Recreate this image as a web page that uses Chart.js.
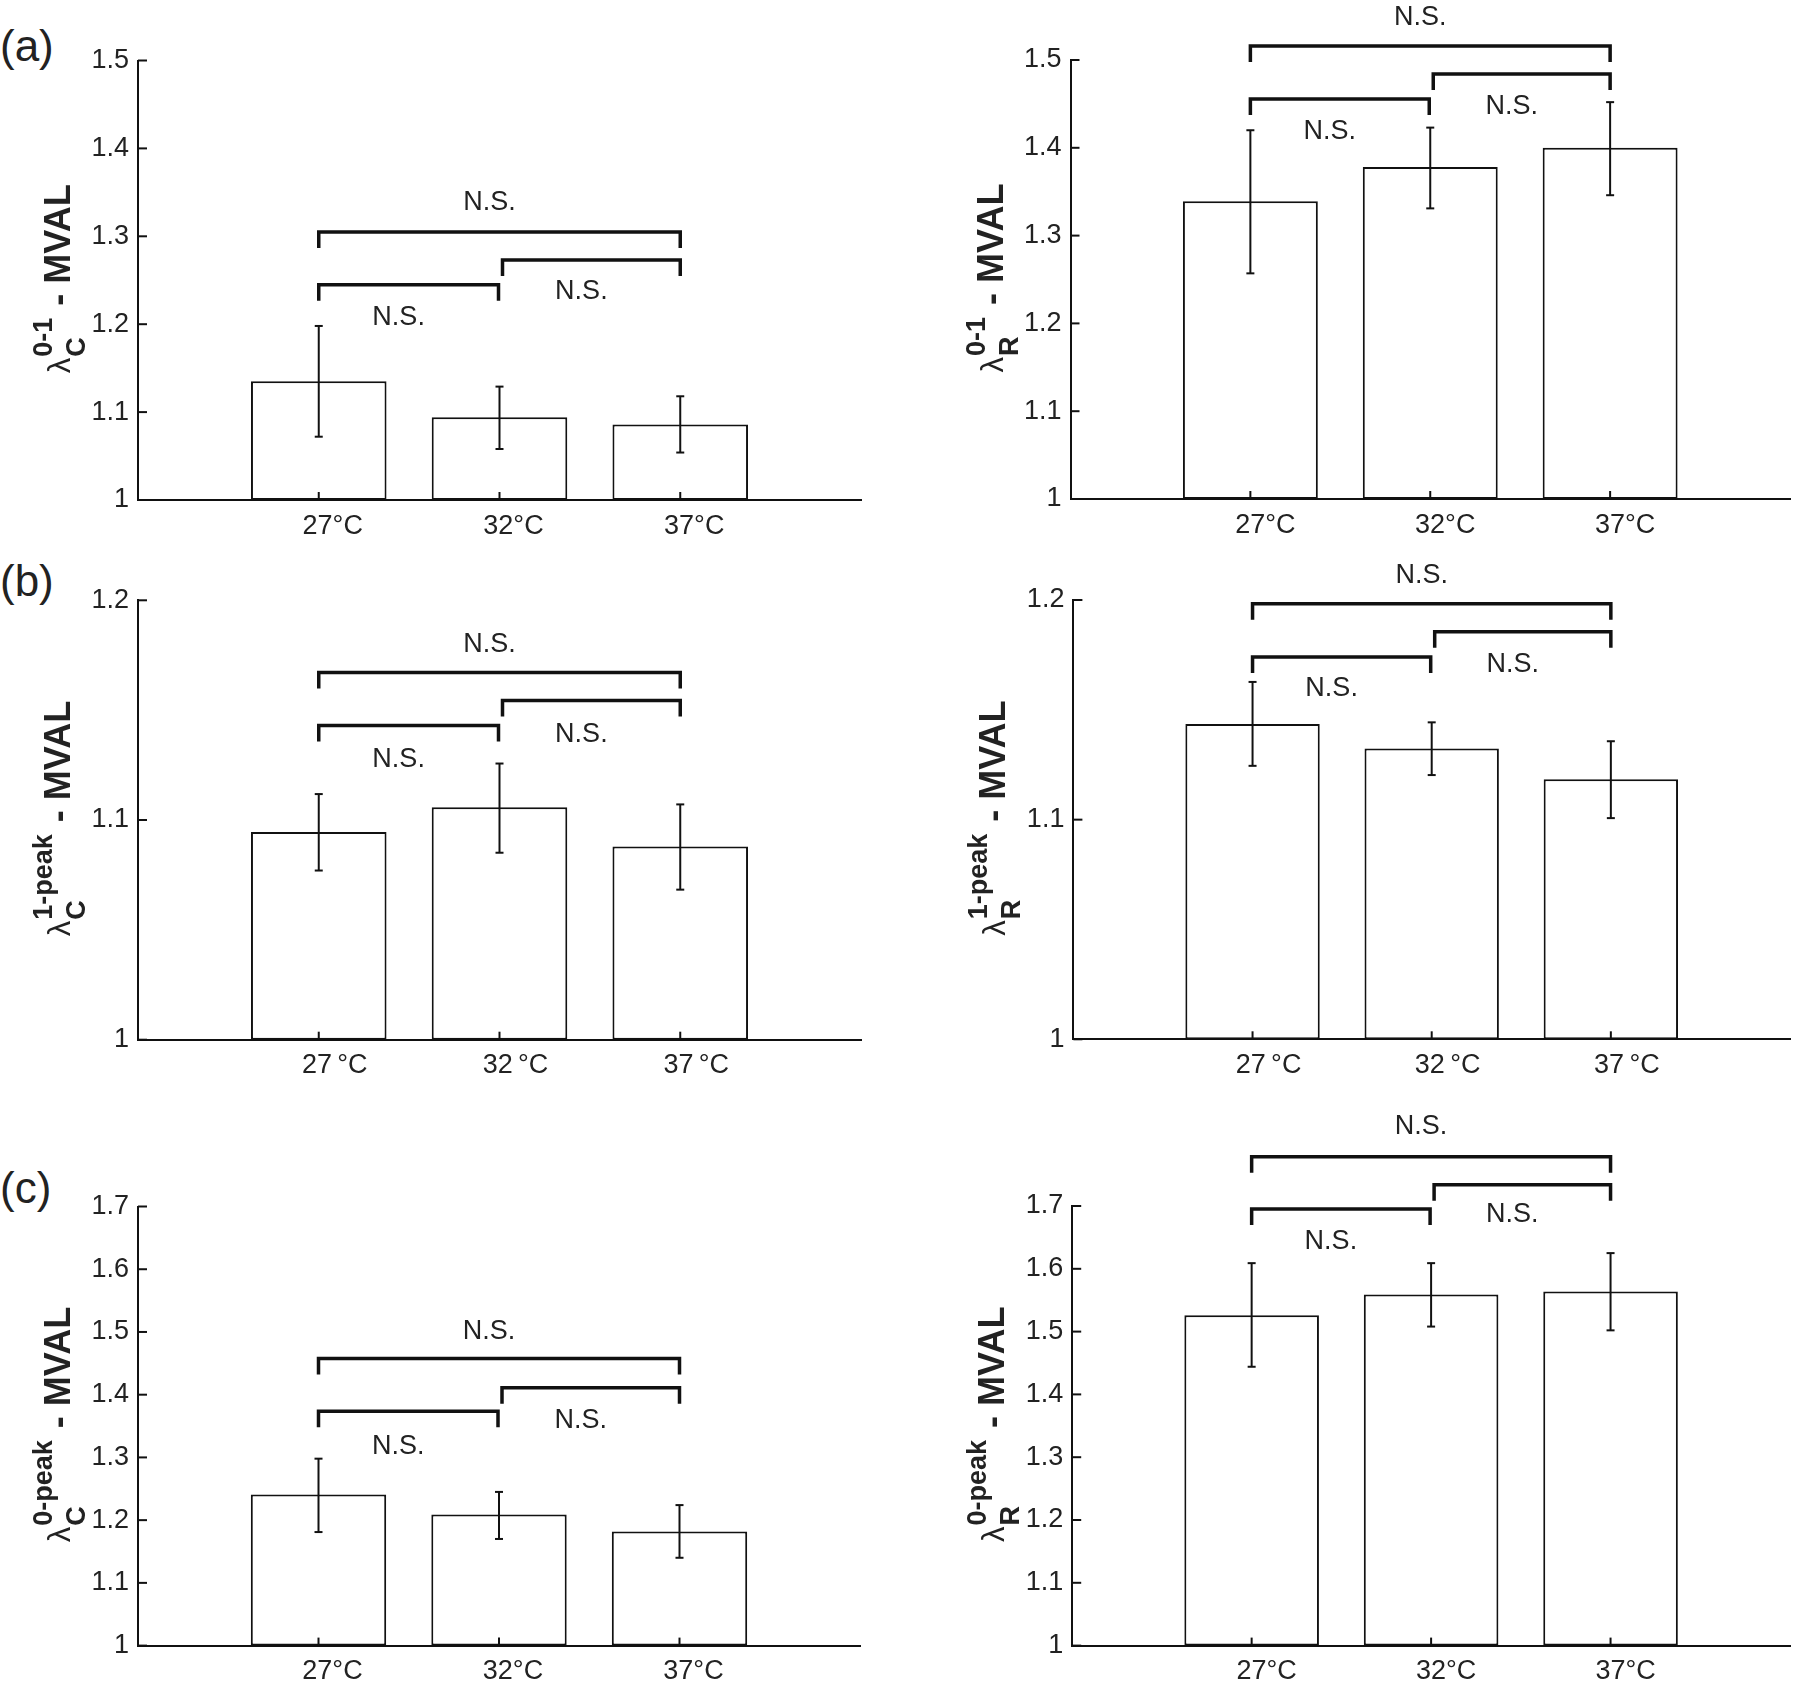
<!DOCTYPE html>
<html>
<head>
<meta charset="utf-8">
<title>MVAL vs temperature</title>
<script src="https://cdn.jsdelivr.net/npm/chart.js@4.4.1/dist/chart.umd.min.js"></script>
<style>
  html, body { margin: 0; padding: 0; background: #fff; }
  #fig { position: relative; width: 1800px; height: 1686px; overflow: hidden; }
  #fig canvas { position: absolute; }
  .tag { position: absolute; left: 0; font: 44px/44px 'Liberation Sans', Arial, sans-serif; color: #222; }
</style>
</head>
<body>
<div id="fig">
  <div class="tag" style="top:24px">(a)</div>
  <div class="tag" style="top:559px">(b)</div>
  <div class="tag" style="top:1166px">(c)</div>
</div>
<script>
// categories (x)
const temps  = ['27°C', '32°C', '37°C'];
const tempsB = ['27\u2009°C', '32\u2009°C', '37\u2009°C'];

// y tick labels per row
const ticks01 = [1, 1.1, 1.2, 1.3, 1.4, 1.5];
const ticks1p = [1, 1.1, 1.2];
const ticks0p = [1, 1.1, 1.2, 1.3, 1.4, 1.5, 1.6, 1.7];

// (a) lambda 0-1 : bar mean, error bar top / bottom
const meanC01 = [1.135, 1.094, 1.086];
const hiC01   = [1.198, 1.129, 1.118];
const loC01   = [1.072, 1.058, 1.054];
const meanR01 = [1.339, 1.378, 1.400];
const hiR01   = [1.420, 1.423, 1.452];
const loR01   = [1.257, 1.331, 1.346];

// (b) lambda 1-peak
const meanC1p = [1.0945, 1.1058, 1.0879];
const hiC1p   = [1.1118, 1.1257, 1.1071];
const loC1p   = [1.0770, 1.0851, 1.0683];
const meanR1p = [1.1435, 1.1324, 1.1184];
const hiR1p   = [1.1627, 1.1443, 1.1357];
const loR1p   = [1.1245, 1.1203, 1.1007];

// (c) lambda 0-peak
const meanC0p = [1.241, 1.209, 1.182];
const hiC0p   = [1.298, 1.245, 1.224];
const loC0p   = [1.181, 1.170, 1.140];
const meanR0p = [1.526, 1.559, 1.564];
const hiR0p   = [1.609, 1.609, 1.625];
const loR0p   = [1.444, 1.508, 1.502];

// significance brackets: levels for 27-37, 32-37, 27-32 ; then "N.S." label heights
const brkC01 = [1.305, 1.273, 1.245],    nsC01 = [1.338, 1.237, 1.208];
const brkR01 = [1.516, 1.484, 1.4555],   nsR01 = [1.548, 1.447, 1.418];
const brkC1p = [1.1671, 1.1544, 1.143],  nsC1p = [1.180, 1.139, 1.1277];
const brkR1p = [1.1983, 1.1856, 1.174],  nsR1p = [1.2113, 1.1705, 1.1595];
const brkC0p = [1.4575, 1.411, 1.3735],  nsC0p = [1.5004, 1.3586, 1.317];
const brkR0p = [1.7786, 1.734, 1.6952],  nsR0p = [1.827, 1.6857, 1.643];

const INK = '#111';
const TXT = '#222';
const FAM = "'Liberation Sans', Arial, sans-serif";
const YW = 130;   // y axis box width
const XH = 50;    // x axis box height (labels are clipped to it)
Chart.defaults.font.family = FAM;

const fig = document.getElementById('fig');

function line(ctx, x1, y1, x2, y2) {
  ctx.beginPath(); ctx.moveTo(x1, y1); ctx.lineTo(x2, y2); ctx.stroke();
}

// λ with sub/superscript, rotated, like the MATLAB ylabel
function drawYTitle(ctx, cx, cy, sub, sup) {
  ctx.save();
  ctx.translate(cx, cy);
  ctx.rotate(-Math.PI / 2);
  ctx.fillStyle = TXT;
  ctx.textAlign = 'left';
  ctx.textBaseline = 'alphabetic';
  const fL = `31px ${FAM}`, fS = `bold 27px ${FAM}`, fM = `bold 36px ${FAM}`;
  const rest = ' - MVAL';
  ctx.font = fL; const wL = ctx.measureText('λ').width;
  ctx.font = fS; const wS = Math.max(ctx.measureText(sub).width, ctx.measureText(sup).width);
  ctx.font = fM; const wM = ctx.measureText(rest).width;
  let px = -(wL + wS + wM) / 2;
  ctx.font = fL; ctx.fillText('λ', px, 0); px += wL + 1;
  ctx.font = fS; ctx.fillText(sub, px, 15); ctx.fillText(sup, px, -18); px += wS + 2;
  ctx.font = fM; ctx.fillText(rest, px, 0);
  ctx.restore();
}

function makeMarks(p) {
  return {
    id: 'marks',
    afterDatasetsDraw(chart) {
      const { ctx, chartArea: a, scales: { x, y } } = chart;
      ctx.save();
      ctx.strokeStyle = INK;
      ctx.fillStyle = TXT;
      ctx.lineCap = 'butt';
      ctx.lineJoin = 'miter';

      // inward tick marks
      ctx.lineWidth = 2;
      p.ticks.forEach(v => {
        const py = y.getPixelForValue(v);
        line(ctx, a.left, py, a.left + 9, py);
      });
      p.cats.forEach((c, i) => {
        const px = x.getPixelForValue(i + 1);
        line(ctx, px, a.bottom, px, a.bottom - 8);
      });

      // error bars
      p.lo.forEach((lo, i) => {
        const px = x.getPixelForValue(i + 1);
        const pl = y.getPixelForValue(lo), ph = y.getPixelForValue(p.hi[i]);
        line(ctx, px, pl, px, ph);
        line(ctx, px - 4, pl, px + 4, pl);
        line(ctx, px - 4, ph, px + 4, ph);
      });

      // N.S. brackets
      const pairs = [[0, 2, 0, 0], [1, 2, 3, 0], [0, 1, 0, -1]];
      ctx.lineWidth = 3.5;
      ctx.font = `27px ${FAM}`;
      ctx.textAlign = 'center';
      ctx.textBaseline = 'middle';
      pairs.forEach(([i, j, d1, d2], k) => {
        const x1 = x.getPixelForValue(i + 1) + d1;
        const x2 = x.getPixelForValue(j + 1) + d2;
        const py = y.getPixelForValue(p.brk[k]);
        ctx.beginPath();
        ctx.moveTo(x1, py + 16); ctx.lineTo(x1, py); ctx.lineTo(x2, py); ctx.lineTo(x2, py + 16);
        ctx.stroke();
        ctx.fillText('N.S.', (x1 + x2) / 2 - 10, y.getPixelForValue(p.ns[k]));
      });
      ctx.restore();

      drawYTitle(ctx, a.left - 68, (a.top + a.bottom) / 2, p.sub, p.sup);
    }
  };
}

// box: canvas rect on page [x, y, w, h]; area: plot rect on page [l, t, r, b]
function panel(p) {
  const [bx, by, bw, bh] = p.box;
  const cv = document.createElement('canvas');
  cv.width = bw; cv.height = bh;
  cv.style.left = bx + 'px'; cv.style.top = by + 'px';
  fig.appendChild(cv);
  const L = p.area[0] - bx, T = p.area[1] - by, R = p.area[2] - bx, B = p.area[3] - by;

  new Chart(cv, {
    type: 'bar',
    data: {
      labels: ['', ...p.cats, ''],
      datasets: [{
        data: [null, ...p.mean, null],
        base: p.ticks[0],
        backgroundColor: '#fff',
        borderColor: INK,
        borderWidth: 2,
        borderSkipped: false,
        barPercentage: 0.75,
        categoryPercentage: 1
      }]
    },
    options: {
      responsive: false,
      animation: false,
      devicePixelRatio: 1,
      layout: { padding: { left: L - YW, top: T, right: bw - R, bottom: bh - B - XH } },
      plugins: { legend: { display: false }, tooltip: { enabled: false } },
      scales: {
        x: {
          offset: false,
          grid: { display: false, drawTicks: false },
          border: { color: INK, width: 2 },
          ticks: { color: TXT, font: { size: 27 }, padding: 10, labelOffset: p.shift,
                   autoSkip: false, maxRotation: 0 },
          afterFit: s => { s.height = XH; }
        },
        y: {
          min: p.ticks[0],
          max: p.ticks[p.ticks.length - 1],
          grid: { display: false, drawTicks: false },
          border: { color: INK, width: 2 },
          afterBuildTicks: s => { s.ticks = p.ticks.map(v => ({ value: v })); },
          ticks: { color: TXT, font: { size: 27 }, padding: 9,
                   callback: v => String(+v.toFixed(2)) },
          afterFit: s => { s.width = YW; }
        }
      }
    },
    plugins: [makeMarks(p)]
  });
}

panel({ box: [0, 0, 900, 555],     area: [138, 60.5, 861, 500],    cats: temps,  shift: 14, ticks: ticks01,
        mean: meanC01, hi: hiC01, lo: loC01, brk: brkC01, ns: nsC01, sub: 'C', sup: '0-1' });
panel({ box: [900, 0, 900, 555],   area: [1070.5, 60, 1793, 499],  cats: temps,  shift: 15, ticks: ticks01,
        mean: meanR01, hi: hiR01, lo: loR01, brk: brkR01, ns: nsR01, sub: 'R', sup: '0-1' });
panel({ box: [0, 555, 900, 540],   area: [138, 600.3, 861, 1039.7], cats: tempsB, shift: 16, ticks: ticks1p,
        mean: meanC1p, hi: hiC1p, lo: loC1p, brk: brkC1p, ns: nsC1p, sub: 'C', sup: '1-peak' });
panel({ box: [900, 555, 900, 540], area: [1073.4, 600, 1795, 1039.3], cats: tempsB, shift: 16, ticks: ticks1p,
        mean: meanR1p, hi: hiR1p, lo: loR1p, brk: brkR1p, ns: nsR1p, sub: 'R', sup: '1-peak' });
panel({ box: [0, 1095, 900, 610],  area: [138, 1206.5, 860, 1645.6], cats: temps,  shift: 14, ticks: ticks0p,
        mean: meanC0p, hi: hiC0p, lo: loC0p, brk: brkC0p, ns: nsC0p, sub: 'C', sup: '0-peak' });
panel({ box: [900, 1095, 900, 610], area: [1072.2, 1206, 1794, 1645.6], cats: temps, shift: 15, ticks: ticks0p,
        mean: meanR0p, hi: hiR0p, lo: loR0p, brk: brkR0p, ns: nsR0p, sub: 'R', sup: '0-peak' });
</script>
</body>
</html>
